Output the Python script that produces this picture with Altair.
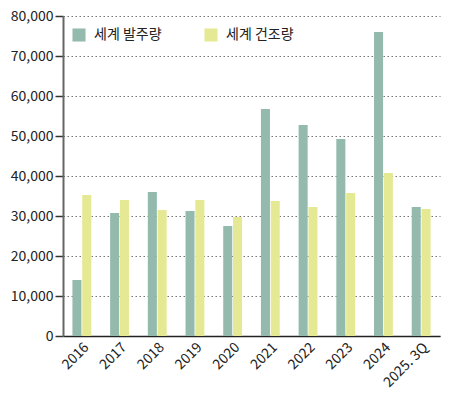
import pandas as pd
import altair as alt

years = ['2016', '2017', '2018', '2019', '2020', '2021', '2022', '2023', '2024', '2025. 3Q']
orders = [14000, 30750, 36000, 31250, 27500, 56750, 52750, 49250, 76000, 32250]
built = [35250, 34000, 31500, 34000, 29750, 33750, 32250, 35750, 40750, 31750]
series = ['세계 발주량', '세계 건조량']
colors = ['#93BAAD', '#E6E994']

rows = []
for i, y in enumerate(years):
    rows.append({'year': y, 'series': series[0], 'value': orders[i]})
    rows.append({'year': y, 'series': series[1], 'value': built[i]})
data = pd.DataFrame(rows)

font = 'Noto Sans CJK KR'

bars = alt.Chart(data).mark_bar().encode(
    x=alt.X('year:N', sort=years, title=None,
            scale=alt.Scale(paddingInner=0.5, paddingOuter=0.25),
            axis=alt.Axis(labelAngle=-45, labelAlign='right', labelBaseline='top',
                          ticks=False, domainColor='#222', domainWidth=1.5,
                          labelFontSize=14, labelColor='#222', labelFont=font,
                          labelPadding=4)),
    xOffset=alt.XOffset('series:N', sort=series, scale=alt.Scale(paddingInner=0.08)),
    y=alt.Y('value:Q', title=None,
            scale=alt.Scale(domain=[0, 80000]),
            axis=alt.Axis(values=list(range(0, 80001, 10000)), format=',.0f',
                          grid=True, gridDash=[1.5, 2.5], gridColor='#777', gridWidth=1,
                          domainColor='#666', domainWidth=2,
                          tickColor='#333', tickSize=8, tickWidth=1.5,
                          labelFontSize=14, labelColor='#222', labelFont=font,
                          labelPadding=2)),
    color=alt.Color('series:N', sort=series,
                    scale=alt.Scale(domain=series, range=colors),
                    legend=alt.Legend(title=None, orient='none', legendX=9, legendY=12,
                                      direction='horizontal', symbolType='square',
                                      symbolSize=170, symbolStrokeWidth=0,
                                      labelFontSize=14, labelFont=font, labelColor='#222',
                                      columnPadding=42, labelOffset=8))
).properties(
    width=377,
    height=320,
    padding={'left': 2, 'top': 1, 'right': 2, 'bottom': 0}
).configure_view(
    stroke=None
)

bars.save("out.html", embed_options={"renderer": "svg", "actions": False})
